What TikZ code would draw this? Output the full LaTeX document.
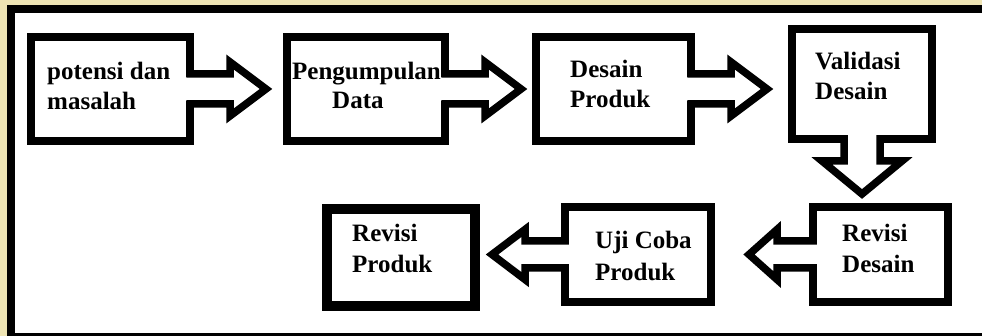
\documentclass[tikz,border=0pt]{standalone}
\usepackage{fontspec}
\setmainfont{Liberation Serif}
\usetikzlibrary{calc}
\definecolor{strip}{HTML}{EEE4B4}

\tikzset{
  x=1pt, y=-1pt,
  box/.style={draw, line width=7.5pt, outer sep=0pt, inner sep=0pt},
  heavybox/.style={box, line width=10pt},
  lbl/.style={anchor=base west, inner sep=0pt, font=\fontsize{25}{30}\selectfont\bfseries},
  outline/.style={line width=7.5pt, line join=miter},
}

% Block arrows growing out of a box edge.
% #1 node, #2 half shaft width, #3 head offset, #4 tip offset, #5 half head width
\newcommand\rightblock[5]{%
  \fill[white] ($(#1.east)+(-4,-#2+3)$) rectangle ($(#1.east)+(4,#2-3)$);
  \draw[outline] ($(#1.east)+(-3.75,-#2)$) -- ($(#1.east)+(#3,-#2)$)
    -- ($(#1.east)+(#3,-#5)$) -- ($(#1.east)+(#4,0)$) -- ($(#1.east)+(#3,#5)$)
    -- ($(#1.east)+(#3,#2)$) -- ($(#1.east)+(-3.75,#2)$);}
\newcommand\leftblock[5]{%
  \fill[white] ($(#1.west)+(-4,-#2+3)$) rectangle ($(#1.west)+(4,#2-3)$);
  \draw[outline] ($(#1.west)+(3.75,-#2)$) -- ($(#1.west)+(-#3,-#2)$)
    -- ($(#1.west)+(-#3,-#5)$) -- ($(#1.west)+(-#4,0)$) -- ($(#1.west)+(-#3,#5)$)
    -- ($(#1.west)+(-#3,#2)$) -- ($(#1.west)+(3.75,#2)$);}
\newcommand\downblock[5]{%
  \fill[white] ($(#1.south)+(-#2+3,-4)$) rectangle ($(#1.south)+(#2-3,4)$);
  \draw[outline] ($(#1.south)+(-#2,-3.75)$) -- ($(#1.south)+(-#2,#3)$)
    -- ($(#1.south)+(-#5,#3)$) -- ($(#1.south)+(0,#4)$) -- ($(#1.south)+(#5,#3)$)
    -- ($(#1.south)+(#2,#3)$) -- ($(#1.south)+(#2,-3.75)$);}

\begin{document}
\begin{tikzpicture}
  \useasboundingbox (0,0) rectangle (982,336);
  % page and outer frame
  \fill[strip] (0,0) rectangle (982,336);
  \fill[white] (7,5) rectangle (982,336);
  \draw[line width=8pt] (11,336) -- (11,9) -- (982,9);
  \draw[line width=3pt] (7,334.5) -- (982,334.5);

  % process boxes
  \node[box, minimum width=159pt, minimum height=104pt] (b1) at (110.5,89) {};
  \node[box, minimum width=158pt, minimum height=104pt] (b2) at (366,89) {};
  \node[box, minimum width=155pt, minimum height=104pt] (b3) at (613.5,89) {};
  \node[box, minimum width=140pt, minimum height=110pt] (b4) at (862,84) {};
  \node[box, minimum width=135pt, minimum height=95pt] (b5) at (880.5,254.5) {};
  \node[box, minimum width=146pt, minimum height=95pt] (b6) at (638,254.5) {};
  \node[heavybox, minimum width=148pt, minimum height=97pt] (b7) at (401,257.5) {};

  % flow arrows
  \rightblock{b1}{15}{40}{76}{27}
  \rightblock{b2}{15}{40}{76}{27}
  \rightblock{b3}{15}{40}{76}{27}
  \downblock{b4}{18}{22}{55}{40}
  \leftblock{b5}{13.5}{36}{64}{25}
  \leftblock{b6}{13.5}{40}{73}{25}

  % labels
  \node[lbl] (t1a) at (47,80) {potensi dan};
  \node[lbl] (t1b) at (47,110) {masalah};
  \node[lbl] (t2a) at (292,80) {Pengumpulan};
  \node[lbl] (t2b) at (332,109) {Data};
  \node[lbl] (t3a) at (570,78) {Desain};
  \node[lbl] (t3b) at (570,108) {Produk};
  \node[lbl] (t4a) at (815,70) {Validasi};
  \node[lbl] (t4b) at (815,100) {Desain};
  \node[lbl] (t5a) at (842,242) {Revisi};
  \node[lbl] (t5b) at (842,273) {Desain};
  \node[lbl] (t6a) at (595,249) {Uji Coba};
  \node[lbl] (t6b) at (595,281) {Produk};
  \node[lbl] (t7a) at (352,242) {Revisi};
  \node[lbl] (t7b) at (352,273) {Produk};
\end{tikzpicture}
\end{document}
